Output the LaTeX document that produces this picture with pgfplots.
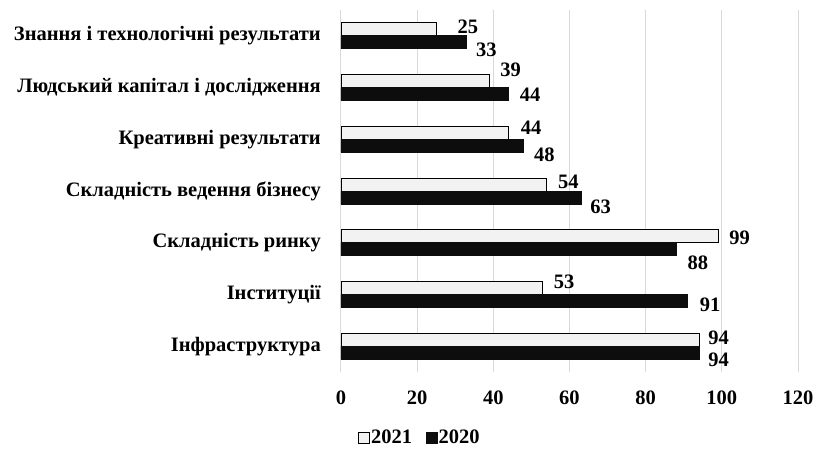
\documentclass[border=0pt]{standalone}
\usepackage{fontspec}
\setmainfont{Liberation Serif}
\usepackage{pgfplots}
\pgfplotsset{compat=1.18}
\definecolor{c21}{HTML}{F2F2F2}
\definecolor{c20}{HTML}{0D0D0D}
\definecolor{gridc}{HTML}{D9D9D9}
\newcommand{\lf}{\bfseries\fontsize{20.5}{24}\selectfont}
\begin{document}
\begin{tikzpicture}
\begin{axis}[
  scale only axis, width=457pt, height=362pt,
  xmin=0, xmax=120, ymin=-0.5, ymax=6.5,
  xtick={0,20,...,120}, ytick={0,...,6},
  yticklabels={Інфраструктура, Інституції, Складність ринку, Складність ведення бізнесу, Креативні результати, Людський капітал і дослідження, Знання і технологічні результати},
  axis line style={draw=none}, major tick length=0pt,
  xmajorgrids, major grid style={gridc, line width=1pt},
  /pgf/number format/assume math mode=true,
  ticklabel style={font=\lf},
  xticklabel style={inner sep=0pt, anchor=north, yshift=-19pt},
  yticklabel style={inner sep=0pt, anchor=east, xshift=-20pt},
  nodes near coords, point meta=explicit,
  every node near coord/.append style={font=\lf, anchor=west, inner sep=0pt, xshift=\dx pt, yshift=\dy pt},
  visualization depends on={\thisrow{dx} \as \dx},
  visualization depends on={\thisrow{dy} \as \dy},
  legend columns=2,
  legend style={at={(0.172,-0.182)}, anchor=center, draw=none, fill=none, font=\lf,
    nodes={inner sep=1.5pt}, /tikz/every even column/.append style={column sep=12pt}},
  legend image code/.code={\draw[#1, line width=0.6pt] (0pt,-5.5pt) rectangle (11pt,5.5pt);},
  clip=false,
]
% 2021: labels sit above the bar centre (bar shift +6.5pt included in dy)
\addplot[xbar, bar width=13pt, bar shift=6.5pt, fill=c21, draw=black, line width=0.75pt]
  table[x=v, y=k, meta=v]{
k v dx dy
0 94 9 8
1 53 10.7 12.5
2 99 11 4.5
3 54 11 9
4 44 12 11.5
5 39 10.5 17.5
6 25 21 9
};
\addplot[xbar, bar width=13pt, bar shift=-6.5pt, fill=c20, draw=c20, line width=0.75pt]
  table[x=v, y=k, meta=v]{
k v dx dy
0 94 9 -14
1 91 12 -10.5
2 88 11 -20.5
3 63 9 -16
4 48 10 -15.5
5 44 11 -7.5
6 33 9 -14
};
\legend{2021, 2020}
\coordinate (o) at (rel axis cs:0,0);
\end{axis}
\path (o) ++(-341pt,-78pt) rectangle ++(824pt,450pt);
\end{tikzpicture}
\end{document}
